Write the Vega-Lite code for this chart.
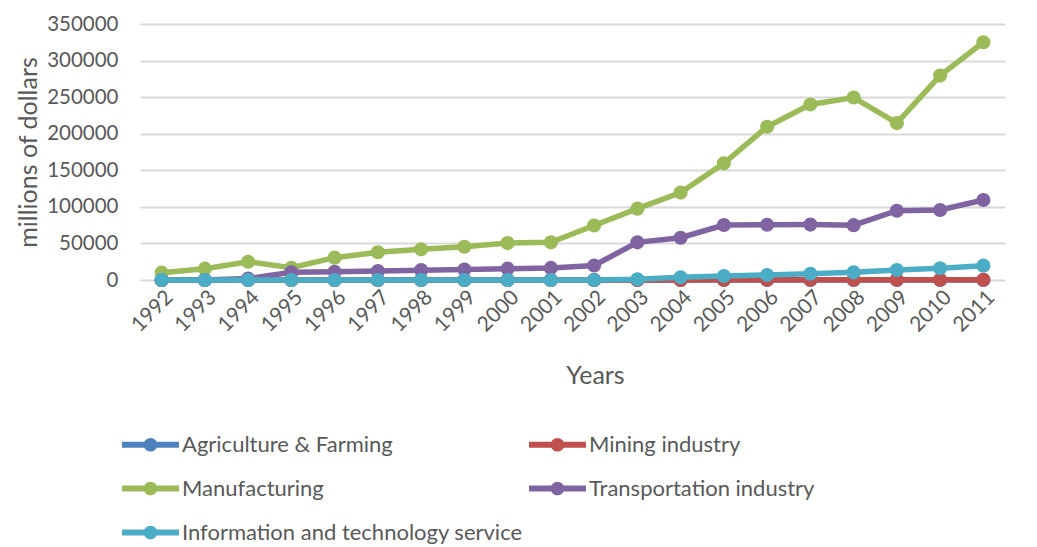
{
  "$schema": "https://vega.github.io/schema/vega-lite/v6.json",
  "width": 865,
  "height": 256,
  "autosize": {"type": "none"},
  "padding": {"left": 140, "top": 24, "right": 32, "bottom": 267},
  "background": "white",
  "config": {
    "font": "Lato",
    "view": {"stroke": null},
    "axis": {"labelColor": "#595959", "titleColor": "#595959", "titleFontWeight": "normal", "labelFont": "Lato", "titleFont": "Lato"},
    "legend": {"labelColor": "#595959", "labelFont": "Lato"}
  },
  "data": {
    "values": [
      {"year": "1992", "series": "Agriculture & Farming", "value": 0},
      {"year": "1993", "series": "Agriculture & Farming", "value": 0},
      {"year": "1994", "series": "Agriculture & Farming", "value": 0},
      {"year": "1995", "series": "Agriculture & Farming", "value": 0},
      {"year": "1996", "series": "Agriculture & Farming", "value": 0},
      {"year": "1997", "series": "Agriculture & Farming", "value": 0},
      {"year": "1998", "series": "Agriculture & Farming", "value": 0},
      {"year": "1999", "series": "Agriculture & Farming", "value": 0},
      {"year": "2000", "series": "Agriculture & Farming", "value": 0},
      {"year": "2001", "series": "Agriculture & Farming", "value": 0},
      {"year": "2002", "series": "Agriculture & Farming", "value": 0},
      {"year": "2003", "series": "Agriculture & Farming", "value": 0},
      {"year": "2004", "series": "Agriculture & Farming", "value": 0},
      {"year": "2005", "series": "Agriculture & Farming", "value": 0},
      {"year": "2006", "series": "Agriculture & Farming", "value": 0},
      {"year": "2007", "series": "Agriculture & Farming", "value": 0},
      {"year": "2008", "series": "Agriculture & Farming", "value": 0},
      {"year": "2009", "series": "Agriculture & Farming", "value": 0},
      {"year": "2010", "series": "Agriculture & Farming", "value": 0},
      {"year": "2011", "series": "Agriculture & Farming", "value": 0},

      {"year": "1992", "series": "Mining industry", "value": 0},
      {"year": "1993", "series": "Mining industry", "value": 0},
      {"year": "1994", "series": "Mining industry", "value": 0},
      {"year": "1995", "series": "Mining industry", "value": 0},
      {"year": "1996", "series": "Mining industry", "value": 0},
      {"year": "1997", "series": "Mining industry", "value": 0},
      {"year": "1998", "series": "Mining industry", "value": 0},
      {"year": "1999", "series": "Mining industry", "value": 0},
      {"year": "2000", "series": "Mining industry", "value": 0},
      {"year": "2001", "series": "Mining industry", "value": 0},
      {"year": "2002", "series": "Mining industry", "value": 0},
      {"year": "2003", "series": "Mining industry", "value": 0},
      {"year": "2004", "series": "Mining industry", "value": 100},
      {"year": "2005", "series": "Mining industry", "value": 200},
      {"year": "2006", "series": "Mining industry", "value": 300},
      {"year": "2007", "series": "Mining industry", "value": 300},
      {"year": "2008", "series": "Mining industry", "value": 300},
      {"year": "2009", "series": "Mining industry", "value": 300},
      {"year": "2010", "series": "Mining industry", "value": 300},
      {"year": "2011", "series": "Mining industry", "value": 300},

      {"year": "1992", "series": "Manufacturing", "value": 10000},
      {"year": "1993", "series": "Manufacturing", "value": 15500},
      {"year": "1994", "series": "Manufacturing", "value": 25000},
      {"year": "1995", "series": "Manufacturing", "value": 16800},
      {"year": "1996", "series": "Manufacturing", "value": 30500},
      {"year": "1997", "series": "Manufacturing", "value": 37900},
      {"year": "1998", "series": "Manufacturing", "value": 42000},
      {"year": "1999", "series": "Manufacturing", "value": 45500},
      {"year": "2000", "series": "Manufacturing", "value": 50500},
      {"year": "2001", "series": "Manufacturing", "value": 51500},
      {"year": "2002", "series": "Manufacturing", "value": 74500},
      {"year": "2003", "series": "Manufacturing", "value": 97500},
      {"year": "2004", "series": "Manufacturing", "value": 119500},
      {"year": "2005", "series": "Manufacturing", "value": 159500},
      {"year": "2006", "series": "Manufacturing", "value": 209500},
      {"year": "2007", "series": "Manufacturing", "value": 240000},
      {"year": "2008", "series": "Manufacturing", "value": 249500},
      {"year": "2009", "series": "Manufacturing", "value": 214500},
      {"year": "2010", "series": "Manufacturing", "value": 279500},
      {"year": "2011", "series": "Manufacturing", "value": 325000},

      {"year": "1992", "series": "Transportation industry", "value": 0},
      {"year": "1993", "series": "Transportation industry", "value": 0},
      {"year": "1994", "series": "Transportation industry", "value": 2000},
      {"year": "1995", "series": "Transportation industry", "value": 10500},
      {"year": "1996", "series": "Transportation industry", "value": 11300},
      {"year": "1997", "series": "Transportation industry", "value": 12300},
      {"year": "1998", "series": "Transportation industry", "value": 13500},
      {"year": "1999", "series": "Transportation industry", "value": 14400},
      {"year": "2000", "series": "Transportation industry", "value": 15500},
      {"year": "2001", "series": "Transportation industry", "value": 16500},
      {"year": "2002", "series": "Transportation industry", "value": 19800},
      {"year": "2003", "series": "Transportation industry", "value": 51500},
      {"year": "2004", "series": "Transportation industry", "value": 57800},
      {"year": "2005", "series": "Transportation industry", "value": 75200},
      {"year": "2006", "series": "Transportation industry", "value": 75500},
      {"year": "2007", "series": "Transportation industry", "value": 75800},
      {"year": "2008", "series": "Transportation industry", "value": 75000},
      {"year": "2009", "series": "Transportation industry", "value": 94700},
      {"year": "2010", "series": "Transportation industry", "value": 95700},
      {"year": "2011", "series": "Transportation industry", "value": 109400},

      {"year": "1992", "series": "Information and technology service", "value": 0},
      {"year": "1993", "series": "Information and technology service", "value": 0},
      {"year": "1994", "series": "Information and technology service", "value": 0},
      {"year": "1995", "series": "Information and technology service", "value": 0},
      {"year": "1996", "series": "Information and technology service", "value": 0},
      {"year": "1997", "series": "Information and technology service", "value": 0},
      {"year": "1998", "series": "Information and technology service", "value": 0},
      {"year": "1999", "series": "Information and technology service", "value": 0},
      {"year": "2000", "series": "Information and technology service", "value": 0},
      {"year": "2001", "series": "Information and technology service", "value": 0},
      {"year": "2002", "series": "Information and technology service", "value": 0},
      {"year": "2003", "series": "Information and technology service", "value": 1000},
      {"year": "2004", "series": "Information and technology service", "value": 3700},
      {"year": "2005", "series": "Information and technology service", "value": 5500},
      {"year": "2006", "series": "Information and technology service", "value": 6800},
      {"year": "2007", "series": "Information and technology service", "value": 8600},
      {"year": "2008", "series": "Information and technology service", "value": 10500},
      {"year": "2009", "series": "Information and technology service", "value": 13700},
      {"year": "2010", "series": "Information and technology service", "value": 16000},
      {"year": "2011", "series": "Information and technology service", "value": 19600}
    ]
  },
  "encoding": {
    "x": {
      "field": "year", "type": "ordinal",
      "scale": {"type": "point", "padding": 0.5},
      "axis": {"title": "Years", "labelAngle": -45, "labelFontSize": 21, "labelPadding": 6, "ticks": false, "domain": false, "grid": false, "titleFontSize": 25, "titlePadding": 28, "titleX": 455}
    },
    "y": {
      "field": "value", "type": "quantitative",
      "scale": {"domain": [0, 350000], "nice": false},
      "axis": {"title": "millions of dollars", "values": [0, 50000, 100000, 150000, 200000, 250000, 300000, 350000], "format": "d", "labelFontSize": 20.5, "labelPadding": 22, "ticks": false, "domain": false, "gridColor": "#D9D9D9", "gridWidth": 2, "titleFontSize": 25, "titlePadding": 5}
    },
    "color": {
      "field": "series", "type": "nominal",
      "scale": {
        "domain": ["Agriculture & Farming", "Mining industry", "Manufacturing", "Transportation industry", "Information and technology service"],
        "range": ["#4F81BD", "#C0504D", "#9BBB59", "#8064A2", "#4BACC6"]
      },
      "legend": {
        "title": null, "orient": "none", "legendX": -18, "legendY": 392, "columns": 2, "direction": "horizontal",
        "columnPadding": 6, "rowPadding": 4, "labelFontSize": 22, "labelOffset": 3, "labelLimit": 0,
        "symbolType": "M-1,-0.105H1V0.105H-1Z M-0.24,0A0.24,0.24 0 1,1 0.24,0A0.24,0.24 0 1,1 -0.24,0Z",
        "symbolSize": 3249, "symbolStrokeWidth": 0, "symbolOpacity": 1
      }
    }
  },
  "layer": [
    {"transform": [{"filter": "datum.series === 'Agriculture & Farming'"}], "mark": {"type": "line", "strokeWidth": 5.5}},
    {"transform": [{"filter": "datum.series === 'Agriculture & Farming'"}], "mark": {"type": "point", "filled": true, "size": 200, "opacity": 1}},
    {"transform": [{"filter": "datum.series === 'Mining industry'"}], "mark": {"type": "line", "strokeWidth": 5.5}},
    {"transform": [{"filter": "datum.series === 'Mining industry'"}], "mark": {"type": "point", "filled": true, "size": 200, "opacity": 1}},
    {"transform": [{"filter": "datum.series === 'Manufacturing'"}], "mark": {"type": "line", "strokeWidth": 5.5}},
    {"transform": [{"filter": "datum.series === 'Manufacturing'"}], "mark": {"type": "point", "filled": true, "size": 200, "opacity": 1}},
    {"transform": [{"filter": "datum.series === 'Transportation industry'"}], "mark": {"type": "line", "strokeWidth": 5.5}},
    {"transform": [{"filter": "datum.series === 'Transportation industry'"}], "mark": {"type": "point", "filled": true, "size": 200, "opacity": 1}},
    {"transform": [{"filter": "datum.series === 'Information and technology service'"}], "mark": {"type": "line", "strokeWidth": 5.5}},
    {"transform": [{"filter": "datum.series === 'Information and technology service'"}], "mark": {"type": "point", "filled": true, "size": 200, "opacity": 1}}
  ]
}
